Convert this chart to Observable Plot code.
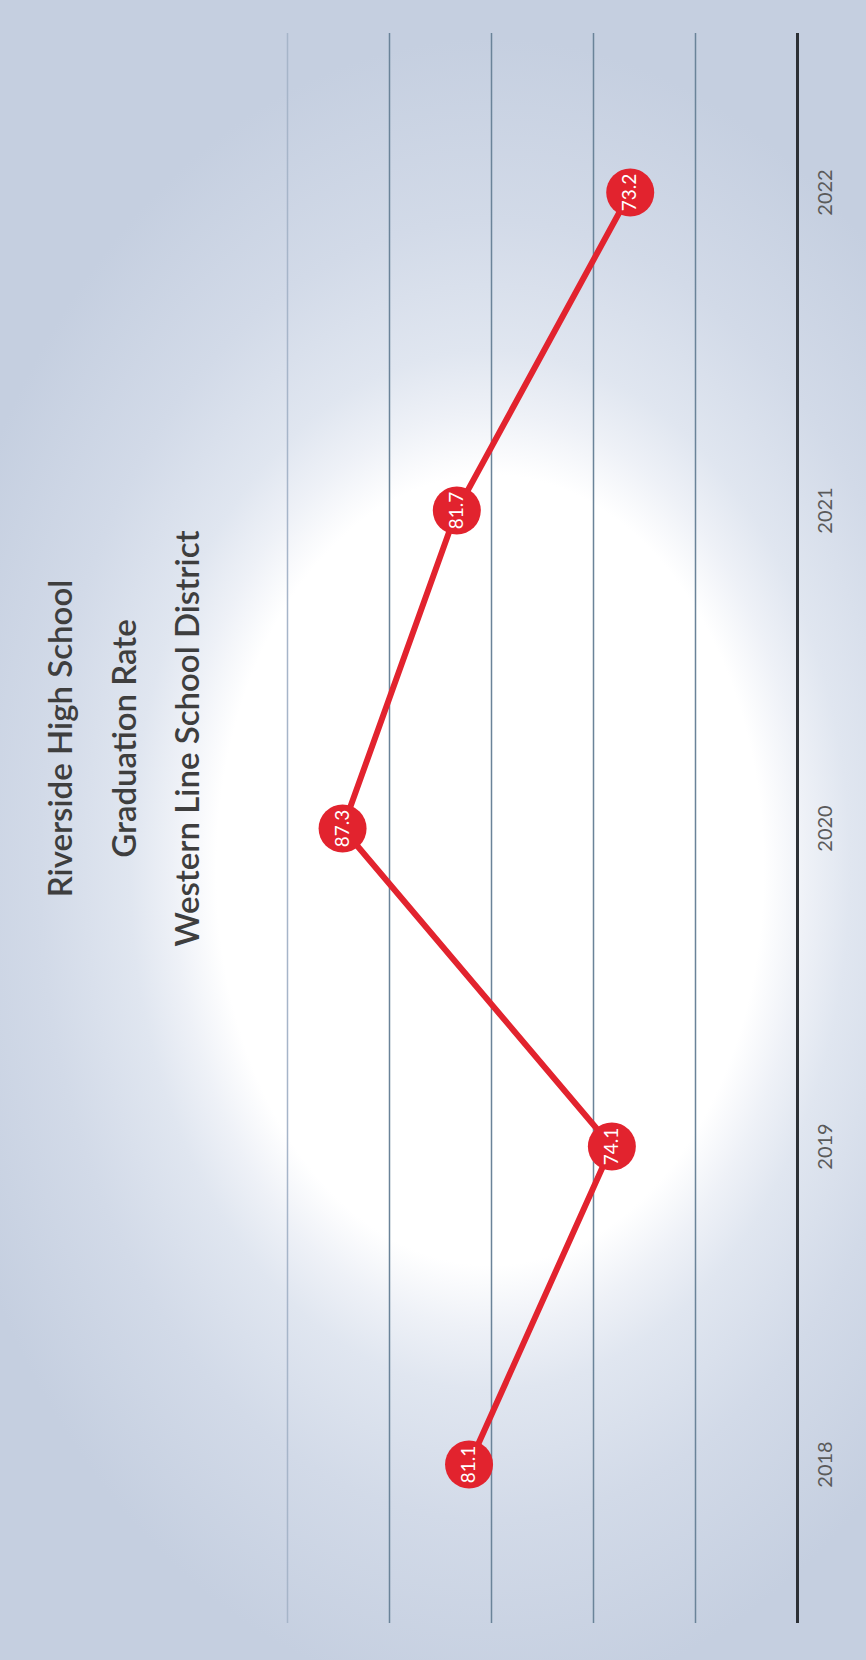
<!DOCTYPE html>
<html><head><meta charset="utf-8">
<script src="https://cdn.jsdelivr.net/npm/d3@7"></script>
<script src="https://cdn.jsdelivr.net/npm/@observablehq/plot@0.6"></script>
<style>
html,body{margin:0;padding:0;background:#c6d0e1;}
#chart{width:866px;height:1660px;overflow:hidden;}
</style></head><body><div id="chart"></div>
<script>
// Data (chart is laid out rotated: years run bottom→top, rate runs right→left)
const years = ["2018", "2019", "2020", "2021", "2022"];
const rates = [81.1, 74.1, 87.3, 81.7, 73.2];
const gridValues = [70, 75, 80, 85];
const topGridValues = [90];
const baselineValues = [65];
const rateDomain = [65, 95];
const titleLines = ["Riverside High School", "Graduation Rate", "Western Line School District"];

const data = years.map((year, i) => ({year, rate: rates[i]}));

const W = 866, H = 1660;
const red = "#e2232e";

const chart = Plot.plot({
  width: W,
  height: H,
  marginLeft: 185,
  marginRight: 69,
  marginTop: 33,
  marginBottom: 37,
  style: {
    background: "radial-gradient(ellipse 360px 520px at 490px 870px, #ffffff 0%, #ffffff 76%, #eef1f7 88%, #e0e6f0 100%, #d2dae8 125%, #c5cfe0 160%)",
    fontFamily: "Lato, 'Open Sans', sans-serif",
    overflow: "visible"
  },
  x: {domain: rateDomain, reverse: true, axis: null},
  y: {type: "point", domain: years.slice().reverse(), padding: 0.5, axis: null},
  marks: [
    Plot.ruleX(topGridValues, {stroke: "#a6b5c9", strokeWidth: 1.5}),
    Plot.ruleX(gridValues, {stroke: "#6a8399", strokeWidth: 1.5}),
    Plot.ruleX(baselineValues, {stroke: "#2c3035", strokeWidth: 3}),
    Plot.text([titleLines.join("\n")], {
      text: d => d,
      frameAnchor: "left",
      dx: -70,
      dy: -90,
      rotate: -90,
      textAnchor: "middle",
      lineAnchor: "middle",
      lineHeight: 1.92,
      fontSize: 33,
      fontWeight: 600,
      fill: "#3e3e3e"
    }),
    Plot.text(years, {
      y: d => d,
      text: d => d,
      frameAnchor: "right",
      dx: 28,
      rotate: -90,
      textAnchor: "middle",
      lineAnchor: "middle",
      fontSize: 20,
      fill: "#5a5a5a"
    }),
    Plot.line(data, {x: "rate", y: "year", stroke: red, strokeWidth: 6}),
    Plot.dot(data, {x: "rate", y: "year", r: 24, fill: red, stroke: "none"}),
    Plot.text(data, {
      x: "rate",
      y: "year",
      text: d => d.rate.toFixed(1),
      rotate: -90,
      textAnchor: "middle",
      lineAnchor: "middle",
      fontSize: 19,
      fill: "white"
    })
  ]
});
document.getElementById("chart").appendChild(chart);
</script>
</body></html>
